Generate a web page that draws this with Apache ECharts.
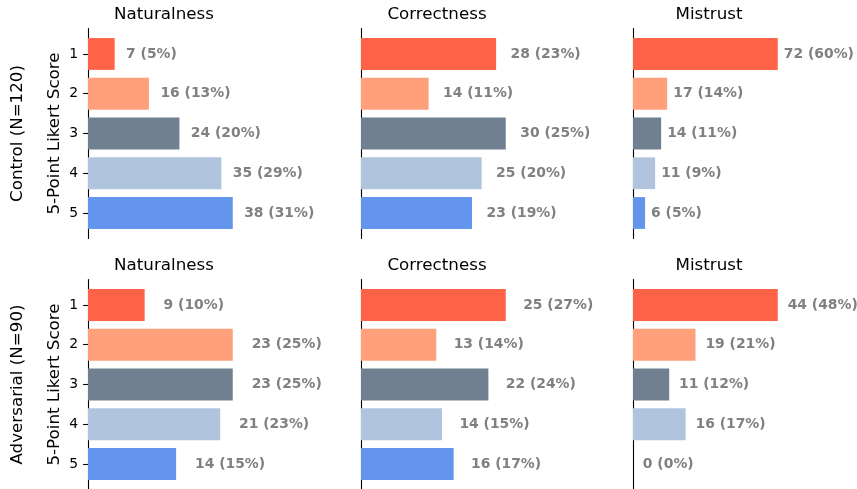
<!DOCTYPE html>
<html>
<head>
<meta charset="utf-8">
<script src="https://cdn.jsdelivr.net/npm/echarts@6/dist/echarts.min.js"></script>
<style>
html,body{margin:0;padding:0;background:#fff;}
#chart{width:857px;height:489px;}
</style>
</head>
<body>
<div id="chart"></div>
<script>
const categories = ['1', '2', '3', '4', '5'];
const metrics = ['Naturalness', 'Correctness', 'Mistrust'];
const groups = ['Control (N=120)', 'Adversarial (N=90)'];
const yAxisTitle = '5-Point Likert Score';
const colors = ['#FF6347', '#FFA07A', '#708090', '#B0C4DE', '#6495ED'];

const controlNaturalness = [7, 16, 24, 35, 38];
const controlNaturalnessPct = [5, 13, 20, 29, 31];
const controlCorrectness = [28, 14, 30, 25, 23];
const controlCorrectnessPct = [23, 11, 25, 20, 19];
const controlMistrust = [72, 17, 14, 11, 6];
const controlMistrustPct = [60, 14, 11, 9, 5];
const advNaturalness = [9, 23, 23, 21, 14];
const advNaturalnessPct = [10, 25, 25, 23, 15];
const advCorrectness = [25, 13, 22, 14, 16];
const advCorrectnessPct = [27, 14, 24, 15, 17];
const advMistrust = [44, 19, 11, 16, 0];
const advMistrustPct = [48, 21, 12, 17, 0];

const panels = [
  [[controlNaturalness, controlNaturalnessPct], [controlCorrectness, controlCorrectnessPct], [controlMistrust, controlMistrustPct]],
  [[advNaturalness, advNaturalnessPct], [advCorrectness, advCorrectnessPct], [advMistrust, advMistrustPct]]
];

// layout (pixels)
const colLeft = [88, 361, 633];
const rowOffset = 251;
const plotW = 152;
const band = 39.75;
const catTop = 34.1;
const spineTop = 28.6;
const spineH = 209.8;
const FONT = 'DejaVu Sans';

const grid = [], xAxis = [], yAxis = [], series = [], graphic = [];
let gi = 0;
for (let r = 0; r < 2; r++) {
  for (let c = 0; c < 3; c++) {
    const [vals, pcts] = panels[r][c];
    const maxV = Math.max(...vals) * 1.05;
    const left = colLeft[c];
    // bar grid
    grid.push({left: left, top: catTop + r * rowOffset, width: plotW, height: band * 5, containLabel: false});
    xAxis.push({gridIndex: gi, type: 'value', min: 0, max: maxV, show: false});
    yAxis.push({
      gridIndex: gi, type: 'category', data: categories, inverse: true,
      axisLine: {show: false},
      axisTick: {show: c === 0, alignWithLabel: true, length: 4.9, lineStyle: {color: '#000', width: 1.1}},
      axisLabel: {show: c === 0, margin: 9.8, color: '#000', fontFamily: FONT, fontSize: 13.9},
      splitLine: {show: false}
    });
    const dist = 3 * plotW / maxV;
    series.push({
      type: 'bar', xAxisIndex: gi, yAxisIndex: gi, barWidth: '80%',
      data: vals.map((v, i) => ({value: v, itemStyle: {color: colors[i]}})),
      label: {
        show: true, position: 'right', distance: dist,
        formatter: p => vals[p.dataIndex] + ' (' + pcts[p.dataIndex] + '%)',
        color: '#808080', fontFamily: FONT, fontWeight: 'bold', fontSize: 13.9
      },
      silent: true, animation: false
    });
    gi++;
    // spine grid
    grid.push({left: left, top: spineTop + r * rowOffset, width: plotW, height: spineH});
    xAxis.push({gridIndex: gi, type: 'value', min: 0, max: 1, show: false});
    yAxis.push({
      gridIndex: gi, type: 'value', min: 0, max: 1,
      axisLine: {show: true, lineStyle: {color: '#000', width: 1.1}},
      axisTick: {show: false}, axisLabel: {show: false}, splitLine: {show: false}
    });
    series.push({type: 'line', xAxisIndex: gi, yAxisIndex: gi, data: [], silent: true});
    gi++;
    // title
    graphic.push({
      type: 'text', x: left + plotW / 2, y: 14.5 + r * rowOffset,
      style: {text: metrics[c], fill: '#000', font: '16.7px "' + FONT + '"', align: 'center', verticalAlign: 'middle'}
    });
  }
  const midY = spineTop + r * rowOffset + spineH / 2;
  graphic.push({
    type: 'text', x: 55, y: midY, rotation: Math.PI / 2,
    style: {text: yAxisTitle, fill: '#000', font: '16.7px "' + FONT + '"', align: 'center', verticalAlign: 'middle'}
  });
  graphic.push({
    type: 'text', x: 18, y: midY, rotation: Math.PI / 2,
    style: {text: groups[r], fill: '#000', font: '16.7px "' + FONT + '"', align: 'center', verticalAlign: 'middle'}
  });
}

const chart = echarts.init(document.getElementById('chart'));
chart.setOption({animation: false, grid, xAxis, yAxis, series, graphic});
</script>
</body>
</html>
